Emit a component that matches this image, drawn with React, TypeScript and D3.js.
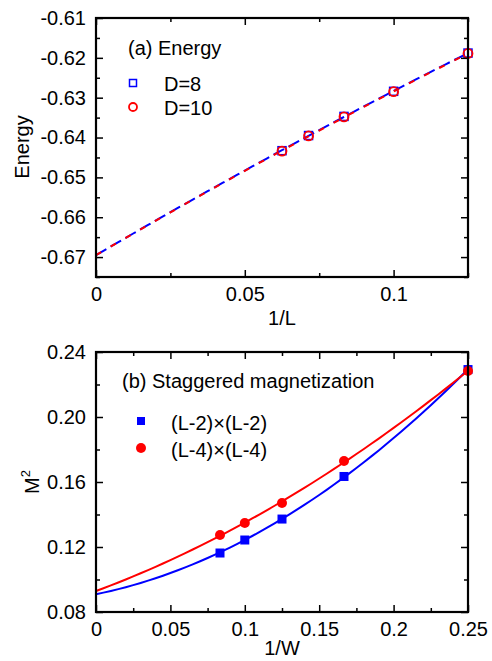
import * as d3 from "d3";
import React, { useEffect, useRef } from "react";

// (a) Energy vs 1/L
const invL = [0.0625, 0.071429, 0.083333, 0.1, 0.125];
const energyD8 = [-0.6433, -0.6395, -0.6347, -0.6284, -0.6188];
const energyD10 = [-0.6434, -0.6396, -0.6348, -0.6285, -0.6189];
const energyIntercept = -0.6695; // extrapolated value read at 1/L = 0
const energyXTicks = [0, 0.05, 0.1];
const energyXMinor = [0.025, 0.075, 0.125];
const energyYTicks = [-0.67, -0.66, -0.65, -0.64, -0.63, -0.62, -0.61];
const energyYMinor = [-0.675, -0.665, -0.655, -0.645, -0.635, -0.625, -0.615];

// (b) Staggered magnetization vs 1/W
const invW = [0.083333, 0.1, 0.125, 0.166667, 0.25];
const magL2 = [0.1163, 0.1243, 0.1372, 0.1634, 0.2292];
const magL4 = [0.1274, 0.1348, 0.1471, 0.1729, 0.2283];
const magL2Intercept = 0.0911;
const magL4Intercept = 0.0929;
const magXTicks = [0, 0.05, 0.1, 0.15, 0.2, 0.25];
const magXMinor = [0.025, 0.075, 0.125, 0.175, 0.225];
const magYTicks = [0.08, 0.12, 0.16, 0.2, 0.24];
const magYMinor = [0.1, 0.14, 0.18, 0.22];

const FONT = "Arial, 'Liberation Sans', Helvetica, sans-serif";

// quadratic least squares fit
function quadFit(xs: number[], ys: number[]) {
  let s0 = 0, s1 = 0, s2 = 0, s3 = 0, s4 = 0, t0 = 0, t1 = 0, t2 = 0;
  xs.forEach((x, i) => {
    const y = ys[i];
    s0 += 1; s1 += x; s2 += x * x; s3 += x * x * x; s4 += x * x * x * x;
    t0 += y; t1 += x * y; t2 += x * x * y;
  });
  const M = [
    [s0, s1, s2, t0],
    [s1, s2, s3, t1],
    [s2, s3, s4, t2],
  ];
  for (let i = 0; i < 3; i++) {
    for (let j = i + 1; j < 3; j++) {
      const f = M[j][i] / M[i][i];
      for (let k = i; k < 4; k++) M[j][k] -= f * M[i][k];
    }
  }
  const c = [0, 0, 0];
  for (let i = 2; i >= 0; i--) {
    let s = M[i][3];
    for (let k = i + 1; k < 3; k++) s -= M[i][k] * c[k];
    c[i] = s / M[i][i];
  }
  return (x: number) => c[0] + c[1] * x + c[2] * x * x;
}

type G = d3.Selection<SVGGElement, unknown, null, undefined>;

function drawFrame(
  g: G,
  x: d3.ScaleLinear<number, number>,
  y: d3.ScaleLinear<number, number>,
  xt: number[],
  xm: number[],
  yt: number[],
  ym: number[],
  xfmt: (d: number) => string,
  yfmt: (d: number) => string
) {
  const [x0, x1] = x.range();
  const [y0, y1] = y.range();
  const major = 7;
  const minor = 4;
  const styleAxis = (a: G) => {
    a.select(".domain").remove();
    a.selectAll("line").attr("stroke", "#000").attr("stroke-width", 1.5);
    a.selectAll("text")
      .attr("font-family", FONT)
      .attr("font-size", 20)
      .attr("fill", "#000");
  };
  // bottom
  g.append("g")
    .attr("transform", `translate(0,${y0})`)
    .call(d3.axisBottom(x).tickValues(xt).tickSize(-major).tickPadding(10).tickFormat((d) => xfmt(+d)))
    .call(styleAxis);
  g.append("g")
    .attr("transform", `translate(0,${y0})`)
    .call(d3.axisBottom(x).tickValues(xm).tickSize(-minor).tickFormat(() => ""))
    .call(styleAxis);
  // top
  g.append("g")
    .attr("transform", `translate(0,${y1})`)
    .call(d3.axisTop(x).tickValues(xt).tickSize(-major).tickFormat(() => ""))
    .call(styleAxis);
  g.append("g")
    .attr("transform", `translate(0,${y1})`)
    .call(d3.axisTop(x).tickValues(xm).tickSize(-minor).tickFormat(() => ""))
    .call(styleAxis);
  // left
  g.append("g")
    .attr("transform", `translate(${x0},0)`)
    .call(d3.axisLeft(y).tickValues(yt).tickSize(-major).tickPadding(10).tickFormat((d) => yfmt(+d)))
    .call(styleAxis);
  g.append("g")
    .attr("transform", `translate(${x0},0)`)
    .call(d3.axisLeft(y).tickValues(ym).tickSize(-minor).tickFormat(() => ""))
    .call(styleAxis);
  // right
  g.append("g")
    .attr("transform", `translate(${x1},0)`)
    .call(d3.axisRight(y).tickValues(yt).tickSize(-major).tickFormat(() => ""))
    .call(styleAxis);
  g.append("g")
    .attr("transform", `translate(${x1},0)`)
    .call(d3.axisRight(y).tickValues(ym).tickSize(-minor).tickFormat(() => ""))
    .call(styleAxis);
  g.append("rect")
    .attr("x", x0)
    .attr("y", y1)
    .attr("width", x1 - x0)
    .attr("height", y0 - y1)
    .attr("fill", "none")
    .attr("stroke", "#000")
    .attr("stroke-width", 2.2);
}

const App: React.FC = () => {
  const svgRef = useRef<SVGSVGElement>(null);

  useEffect(() => {
    const svg = d3.select(svgRef.current);
    svg.selectAll("*").remove();

    // ---------- panel (a) ----------
    const xa = d3.scaleLinear().domain([0, 0.125]).range([96, 468]);
    const ya = d3.scaleLinear().domain([-0.675, -0.61]).range([277, 18]);
    const ga = svg.append("g") as unknown as G;

    const fitD8 = quadFit([0, ...invL], [energyIntercept, ...energyD8]);
    const fitD10 = quadFit([0, ...invL], [energyIntercept, ...energyD10]);
    const grid = d3.range(0, 0.12501, 0.0025);
    const lineA = (f: (x: number) => number) =>
      d3.line<number>().x((d) => xa(d)).y((d) => ya(f(d)))(grid);

    ga.append("path")
      .attr("d", lineA(fitD8))
      .attr("fill", "none")
      .attr("stroke", "#0000ff")
      .attr("stroke-width", 2)
      .attr("stroke-dasharray", "12 5");
    ga.append("path")
      .attr("d", lineA(fitD10))
      .attr("fill", "none")
      .attr("stroke", "#ff0000")
      .attr("stroke-width", 2)
      .attr("stroke-dasharray", "6 11");

    const sq = 8;
    ga.selectAll(".sqa")
      .data(invL)
      .join("rect")
      .attr("x", (d) => xa(d) - sq / 2)
      .attr("y", (d, i) => ya(energyD8[i]) - sq / 2)
      .attr("width", sq)
      .attr("height", sq)
      .attr("fill", "none")
      .attr("stroke", "#0000ff")
      .attr("stroke-width", 1.5);
    ga.selectAll(".cia")
      .data(invL)
      .join("circle")
      .attr("cx", (d) => xa(d))
      .attr("cy", (d, i) => ya(energyD10[i]))
      .attr("r", 4.5)
      .attr("fill", "none")
      .attr("stroke", "#ff0000")
      .attr("stroke-width", 1.8);

    drawFrame(
      ga,
      xa,
      ya,
      energyXTicks,
      energyXMinor,
      energyYTicks,
      energyYMinor,
      (d) => String(d),
      (d) => d.toFixed(2)
    );

    const textA = (x: number, y: number, s: string) =>
      ga.append("text")
        .attr("x", x)
        .attr("y", y)
        .attr("font-family", FONT)
        .attr("font-size", 20)
        .attr("fill", "#000")
        .text(s);
    textA(128, 55, "(a) Energy");
    ga.append("rect")
      .attr("x", 133 - 3.5)
      .attr("y", 83 - 3.5)
      .attr("width", 7)
      .attr("height", 7)
      .attr("fill", "none")
      .attr("stroke", "#0000ff")
      .attr("stroke-width", 1.5);
    textA(164, 91, "D=8");
    ga.append("circle")
      .attr("cx", 133)
      .attr("cy", 107)
      .attr("r", 4)
      .attr("fill", "none")
      .attr("stroke", "#ff0000")
      .attr("stroke-width", 1.8);
    textA(164, 115, "D=10");
    textA(282, 325, "1/L").attr("text-anchor", "middle");
    textA(0, 0, "Energy")
      .attr("text-anchor", "middle")
      .attr("transform", "translate(29,147) rotate(-90)");

    // ---------- panel (b) ----------
    const xb = d3.scaleLinear().domain([0, 0.25]).range([96, 468]);
    const yb = d3.scaleLinear().domain([0.08, 0.24]).range([612, 352]);
    const gb = svg.append("g") as unknown as G;

    const fitL2 = quadFit([0, ...invW], [magL2Intercept, ...magL2]);
    const fitL4 = quadFit([0, ...invW], [magL4Intercept, ...magL4]);
    const gridB = d3.range(0, 0.25001, 0.005);
    const lineB = (f: (x: number) => number) =>
      d3.line<number>().x((d) => xb(d)).y((d) => yb(f(d)))(gridB);

    gb.append("path")
      .attr("d", lineB(fitL2))
      .attr("fill", "none")
      .attr("stroke", "#0000ff")
      .attr("stroke-width", 2);
    gb.append("path")
      .attr("d", lineB(fitL4))
      .attr("fill", "none")
      .attr("stroke", "#ff0000")
      .attr("stroke-width", 2);

    const sqb = 9;
    gb.selectAll(".sqb")
      .data(invW)
      .join("rect")
      .attr("x", (d) => xb(d) - sqb / 2)
      .attr("y", (d, i) => yb(magL2[i]) - sqb / 2)
      .attr("width", sqb)
      .attr("height", sqb)
      .attr("fill", "#0000ff");
    gb.selectAll(".cib")
      .data(invW)
      .join("circle")
      .attr("cx", (d) => xb(d))
      .attr("cy", (d, i) => yb(magL4[i]))
      .attr("r", 5)
      .attr("fill", "#ff0000");

    drawFrame(
      gb,
      xb,
      yb,
      magXTicks,
      magXMinor,
      magYTicks,
      magYMinor,
      (d) => String(d),
      (d) => d.toFixed(2)
    );

    const textB = (x: number, y: number, s: string) =>
      gb.append("text")
        .attr("x", x)
        .attr("y", y)
        .attr("font-family", FONT)
        .attr("font-size", 20)
        .attr("fill", "#000")
        .text(s);
    textB(122, 388, "(b) Staggered magnetization");
    gb.append("rect")
      .attr("x", 141 - 4)
      .attr("y", 421 - 4)
      .attr("width", 8)
      .attr("height", 8)
      .attr("fill", "#0000ff");
    textB(171, 430, "(L-2)\u00d7(L-2)");
    gb.append("circle")
      .attr("cx", 141)
      .attr("cy", 448)
      .attr("r", 5)
      .attr("fill", "#ff0000");
    textB(171, 457, "(L-4)\u00d7(L-4)");
    textB(282, 655, "1/W").attr("text-anchor", "middle");
    const m2 = textB(0, 0, "M")
      .attr("text-anchor", "middle")
      .attr("transform", "translate(39,482) rotate(-90)");
    m2.append("tspan").attr("font-size", 13).attr("dy", -9).text("2");
  }, []);

  return (
    <svg
      ref={svgRef}
      width={492}
      height={661}
      style={{ position: "absolute", left: 0, top: 0, background: "#fff" }}
    />
  );
};

export default App;
